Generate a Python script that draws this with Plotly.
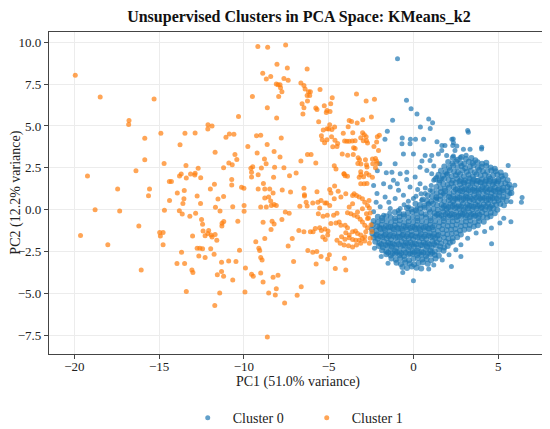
import plotly.graph_objects as go

# PCA scores, cluster 1 (orange)
cluster1_pts = [
    (-19.95, 8.03), (-18.48, 6.73), (-15.3, 6.61), (-16.78, 5.33), (-16.8, 5.09), (-15.85, 4.26),
    (-14.9, 4.56), (-15.85, 2.98), (-14.71, 2.76), (-16.37, 2.33), (-19.23, 2.01), (-13.48, 4.56),
    (-12.88, 4.58), (-13.77, 3.87), (-12.13, 4.81), (-12.12, 5.07), (-11.88, 4.99), (-10.32, 5.56),
    (-11.06, 4.32), (-10.86, 4.52), (-10.59, 4.5), (-13.42, 2.64), (-11.7, 3.43), (-10.53, 3.3),
    (-10.42, 3.0), (-10.89, 2.78), (-10.69, 2.68), (-11.2, 2.5), (-12.7, 2.47), (-12.88, 2.17),
    (-12.9, 2.07), (-13.15, 2.13), (-13.8, 2.01), (-13.7, 2.13), (-12.55, 1.9), (-13.4, 1.89),
    (-17.45, 1.24), (-18.78, 0.0), (-17.33, -0.08), (-19.64, -1.54), (-18.03, -2.09), (-16.2, -0.97),
    (-16.06, -3.61), (-15.57, 1.24), (-15.63, 0.83), (-14.97, -1.36), (-14.77, -1.36), (-14.93, -1.58),
    (-14.77, -2.09), (-14.69, -0.04), (-14.4, 1.68), (-14.28, 1.68), (-14.39, 0.55), (-13.93, 1.0),
    (-13.52, 1.14), (-13.54, 0.65), (-13.6, 0.37), (-13.81, -0.06), (-13.64, -0.26), (-13.19, -0.39),
    (-12.85, -0.22), (-12.76, 0.81), (-12.56, 0.37), (-12.5, -0.59), (-13.03, -1.58), (-12.44, -0.87),
    (-12.41, -1.28), (-12.29, -1.56), (-12.08, -1.24), (-12.13, -1.43), (-11.94, -1.52), (-11.88, -1.64),
    (-11.7, -1.48), (-11.6, -1.82), (-12.76, -2.31), (-12.6, -2.31), (-12.44, -2.33), (-12.66, -2.76),
    (-12.29, -2.86), (-11.96, -2.33), (-11.76, -2.66), (-11.98, 1.24), (-11.74, 1.52), (-11.53, 0.63),
    (-11.41, -0.08), (-11.68, 0.14), (-11.29, -0.81), (-11.19, -0.7), (-11.3, -0.97), (-11.2, 0.79),
    (-10.72, 1.8), (-10.72, 1.48), (-10.66, 0.18), (-10.36, -0.69), (-10.26, -2.43), (-10.47, -3.1),
    (-10.66, -4.2), (-10.9, -3.06), (-11.32, -3.14), (-11.32, -3.69), (-11.2, -3.98), (-11.57, -3.89),
    (-13.95, -3.21), (-13.5, -3.21), (-13.07, -3.61), (-13.01, -3.75), (-13.4, -4.89), (-11.43, -4.97),
    (-11.72, -5.72), (-13.68, -2.54),
    (-9.18, 9.74), (-8.6, 9.7), (-7.54, 9.84), (-8.05, 8.68), (-7.44, 8.46), (-8.89, 8.15),
    (-8.68, 7.81), (-8.42, 7.95), (-7.64, 7.83), (-7.39, 7.73), (-6.27, 8.4), (-8.09, 7.5),
    (-7.99, 7.46), (-7.87, 7.46), (-7.84, 7.28), (-7.76, 7.04), (-7.95, 6.76), (-9.5, 6.76),
    (-8.62, 6.09), (-8.07, 5.48), (-6.64, 7.57), (-6.46, 7.41), (-6.39, 7.2), (-6.19, 7.04),
    (-6.08, 7.04), (-6.12, 6.82), (-6.27, 6.82), (-6.25, 6.49), (-6.57, 6.33), (-6.46, 6.09),
    (-6.52, 5.72), (-5.51, 7.18), (-5.76, 6.07), (-5.69, 5.98), (-5.26, 6.21), (-5.1, 5.92),
    (-4.88, 6.33), (-4.79, 6.69), (-4.92, 5.86), (-5.14, 5.8), (-5.59, 5.25), (-3.36, 6.9),
    (-2.79, 6.49), (-2.3, 6.59), (-2.48, 5.54), (-2.99, 5.37), (-3.79, 5.33), (-3.65, 5.27),
    (-3.85, 4.95), (-3.32, 5.17), (-4.94, 5.07), (-5.1, 4.83), (-5.0, 4.81), (-4.81, 4.79),
    (-4.65, 4.93), (-5.32, 4.75), (-5.43, 4.42), (-4.83, 4.36), (-5.1, 4.18), (-5.38, 4.18),
    (-4.63, 4.14), (-4.47, 3.95), (-4.51, 3.77), (-4.76, 3.75), (-5.24, 4.0), (-4.14, 4.56),
    (-4.06, 4.1), (-3.93, 4.08), (-3.79, 4.08), (-3.61, 4.1), (-3.58, 4.6), (-3.44, 4.12),
    (-3.0, 4.6), (-2.9, 4.48), (-2.79, 4.36), (-3.11, 4.3), (-2.77, 4.12), (-2.96, 4.12),
    (-2.71, 3.98), (-2.13, 4.36), (-2.01, 4.44), (-2.17, 4.04), (-2.33, 3.77), (-3.53, 3.69),
    (-3.44, 3.65), (-4.2, 3.33), (-3.88, 3.25), (-3.55, 3.29), (-3.26, 3.1), (-3.18, 2.98),
    (-3.28, 2.76), (-3.1, 2.72), (-2.83, 2.98), (-2.77, 2.68), (-2.42, 3.02), (-2.24, 3.06),
    (-2.18, 2.9), (-2.4, 2.74), (-2.24, 2.5), (-2.14, 2.76), (-4.67, 2.62), (-4.57, 2.43),
    (-4.1, 2.15), (-4.03, 2.03), (-3.11, 2.27), (-2.77, 2.17), (-3.2, 1.93), (-3.1, 2.09),
    (-9.77, 3.77), (-9.26, 4.42), (-9.01, 4.44), (-7.8, 4.28), (-8.63, 3.89), (-9.22, 3.39),
    (-8.79, 3.02), (-8.69, 2.74), (-8.22, 3.47), (-7.87, 3.15), (-9.48, 2.56), (-9.59, 2.47),
    (-8.97, 2.49), (-8.19, 2.54), (-7.64, 2.5), (-7.31, 2.03), (-6.92, 2.19), (-6.64, 2.9),
    (-6.25, 3.29), (-6.04, 3.29), (-5.76, 2.78), (-2.06, 3.53), (-2.74, 2.55), (-2.94, 1.96),
    (-2.74, 1.56),
    (-9.55, 2.23), (-9.55, 1.95), (-9.16, 2.09), (-8.85, 1.56), (-8.25, 1.93), (-10.14, 1.34),
    (-10.0, 1.28), (-9.16, 1.24), (-8.77, 1.24), (-8.48, 1.24), (-8.28, 1.0), (-7.74, 1.18),
    (-7.25, 1.05), (-8.77, 0.69), (-8.54, 0.75), (-8.42, 0.51), (-8.38, 0.25), (-8.22, 0.31),
    (-8.09, 0.25), (-9.01, 0.16), (-8.68, 0.16), (-9.99, 0.25), (-9.99, -0.1), (-8.87, -0.75),
    (-8.34, -0.69), (-8.22, -0.85), (-8.4, -1.18), (-7.76, -0.59), (-7.56, -0.14), (-7.33, -0.22),
    (-6.7, 0.2), (-6.43, 0.81), (-6.33, 0.45), (-6.27, 0.22), (-6.46, 1.28), (-6.43, 0.89),
    (-5.69, 1.07), (-5.45, 0.55), (-5.12, 0.4), (-4.94, 1.2), (-4.87, 0.99), (-4.65, 1.42),
    (-4.44, 1.1), (-5.94, 0.4), (-5.64, 0.45), (-5.22, 0.4), (-4.94, 0.25), (-5.53, 0.1),
    (-5.61, -0.24), (-5.33, -0.39), (-5.08, -0.34), (-4.71, -0.34), (-4.51, -0.22), (-6.76, -1.24),
    (-6.46, -1.32), (-6.08, -1.32), (-5.92, -1.32), (-5.79, -1.12), (-5.53, -1.08), (-5.43, -1.24),
    (-5.22, -1.16), (-5.04, -1.28), (-5.06, -1.52), (-5.35, -1.64), (-5.2, -1.78),
    (-4.87, -0.83), (-4.57, -0.79), (-4.38, -0.73), (-4.28, -0.93), (-4.03, -0.93), (-3.89, -1.08),
    (-3.99, -1.38), (-3.79, -1.52), (-3.59, -1.32), (-3.42, -1.28), (-3.3, -1.42), (-3.11, -1.52),
    (-3.01, -1.72), (-3.2, -1.82), (-3.4, -1.82), (-3.59, -1.78), (-3.79, -1.68), (-4.04, -1.76),
    (-4.24, -1.62), (-4.51, -1.82), (-4.32, -2.01), (-4.09, -2.11), (-3.83, -2.15), (-3.59, -2.23),
    (-3.36, -2.11), (-3.11, -2.01), (-2.87, -1.87), (-2.87, -1.62), (-2.81, -1.32), (-2.71, -1.08),
    (-2.87, -0.93), (-3.01, -0.73), (-3.14, -0.57), (-3.3, -0.43), (-3.5, -0.34), (-3.69, -0.24),
    (-3.89, -0.18), (-4.09, 2.13), (-3.89, 1.99), (-3.5, 0.95), (-3.36, 0.85), (-3.2, 0.75),
    (-3.01, 0.65), (-2.87, 0.45), (-2.71, 0.25), (-3.01, 0.06), (-3.3, -0.14), (-3.59, 0.36),
    (-3.79, 0.16), (-3.11, 1.54), (-2.91, 1.54), (-2.62, 2.07), (-2.42, 1.93), (-2.77, -0.24),
    (-2.71, -0.53), (-2.62, 0.55), (-3.59, 0.85), (-3.99, 0.95), (-4.28, 0.75), (-4.67, 0.65),
    (-2.5, -0.9), (-2.45, -1.3), (-2.55, -1.7), (-2.6, -2.0), (-2.65, -0.5), (-2.55, -0.2),
    (-2.6, 0.1),
    (-9.91, -3.49), (-9.94, -4.91), (-9.55, -3.85), (-9.45, -3.98), (-9.01, -3.79), (-8.87, -4.32),
    (-8.28, -4.04), (-7.99, -3.92), (-8.09, -4.72), (-8.54, -4.97), (-8.15, -5.09), (-7.6, -5.58),
    (-6.86, -5.11), (-6.62, -4.6), (-7.07, -3.1), (-7.39, -2.17), (-7.15, -1.72), (-8.77, -1.72),
    (-9.3, -1.91), (-9.12, -2.31), (-9.07, -2.44), (-9.01, -2.86), (-8.93, -3.0), (-6.23, -2.44),
    (-5.94, -2.54), (-5.7, -2.5), (-5.45, -2.8), (-5.06, -2.94), (-4.96, -2.7), (-5.74, -3.24),
    (-5.35, -4.34), (-4.61, -3.51), (-4.07, -2.9), (-3.99, -3.61), (-8.62, -7.61),
]

# cluster 0 (blue): dense core of the cloud
cluster0_core = [
    (2.32, 3.1), (2.6, 2.98), (2.85, 3.15), (3.1, 3.02), (3.42, 3.08), (3.65, 2.95),
    (2.05, 2.84), (2.3, 2.75), (2.52, 2.88), (2.78, 2.79), (3.0, 2.72), (3.27, 2.86), (3.5, 2.78),
    (3.78, 2.83), (4.05, 2.74), (4.3, 2.8),
    (1.82, 2.58), (2.1, 2.5), (2.35, 2.62), (2.6, 2.53), (2.84, 2.6), (3.05, 2.47), (3.33, 2.57),
    (3.55, 2.63), (3.8, 2.5), (4.02, 2.56), (4.3, 2.6), (4.55, 2.52), (4.8, 2.45),
    (1.62, 2.33), (1.9, 2.25), (2.15, 2.36), (2.4, 2.28), (2.62, 2.22), (2.9, 2.35), (3.15, 2.27),
    (3.38, 2.32), (3.62, 2.24), (3.88, 2.37), (4.1, 2.3), (4.35, 2.26), (4.6, 2.34), (4.85, 2.29),
    (5.15, 2.22),
    (1.48, 2.08), (1.75, 2.02), (2.0, 2.1), (2.26, 1.99), (2.5, 2.06), (2.75, 2.12), (2.98, 2.0),
    (3.25, 2.07), (3.5, 1.98), (3.72, 2.11), (3.96, 2.04), (4.22, 2.09), (4.45, 1.97), (4.7, 2.05),
    (4.95, 2.1), (5.2, 2.0), (5.42, 2.06),
    (1.3, 1.83), (1.55, 1.76), (1.82, 1.85), (2.08, 1.78), (2.32, 1.72), (2.58, 1.84), (2.8, 1.79),
    (3.05, 1.75), (3.3, 1.86), (3.55, 1.8), (3.8, 1.73), (4.05, 1.82), (4.28, 1.77), (4.52, 1.85),
    (4.78, 1.74), (5.02, 1.8), (5.28, 1.83), (5.55, 1.76),
    (1.52, 1.6), (1.76, 1.53), (2.02, 1.49), (2.25, 1.57), (2.5, 1.61),
    (2.76, 1.52), (3.0, 1.56), (3.22, 1.48), (3.48, 1.59), (3.72, 1.54), (3.95, 1.6), (4.2, 1.51),
    (4.45, 1.56), (4.68, 1.5), (4.92, 1.58), (5.18, 1.53), (5.42, 1.57), (5.66, 1.49),
    (1.35, 1.35), (1.6, 1.28), (1.85, 1.24), (2.1, 1.32), (2.36, 1.36),
    (2.6, 1.27), (2.85, 1.3), (3.1, 1.23), (3.35, 1.34), (3.6, 1.29), (3.84, 1.25), (4.08, 1.36),
    (4.32, 1.3), (4.56, 1.24), (4.8, 1.33), (5.05, 1.27), (5.3, 1.31), (5.55, 1.35), (5.76, 1.26),
    (1.12, 1.1), (1.38, 1.0), (1.62, 1.06), (1.88, 1.12), (2.12, 0.99),
    (2.38, 1.07), (2.62, 1.03), (2.88, 1.1), (3.12, 0.98), (3.38, 1.05), (3.62, 1.11), (3.86, 1.01),
    (4.1, 1.07), (4.35, 1.04), (4.6, 0.99), (4.84, 1.09), (5.08, 1.02), (5.32, 1.06), (5.56, 1.1),
    (5.78, 1.0),
    (0.84, 0.85), (1.1, 0.78), (1.35, 0.74), (1.6, 0.82), (1.85, 0.86),
    (2.1, 0.77), (2.35, 0.8), (2.6, 0.73), (2.85, 0.84), (3.1, 0.79), (3.34, 0.75), (3.58, 0.86),
    (3.82, 0.8), (4.06, 0.74), (4.3, 0.83), (4.55, 0.77), (4.8, 0.81), (5.05, 0.85), (5.3, 0.76),
    (5.55, 0.8),
    (0.55, 0.6), (0.8, 0.53), (1.05, 0.49), (1.32, 0.57), (1.58, 0.61),
    (1.82, 0.52), (2.08, 0.56), (2.34, 0.48), (2.58, 0.59), (2.84, 0.54), (3.08, 0.6), (3.32, 0.51),
    (3.56, 0.56), (3.8, 0.5), (4.05, 0.58), (4.3, 0.53), (4.54, 0.57), (4.78, 0.49), (5.02, 0.55),
    (5.26, 0.6), (5.5, 0.52),
    (0.12, 0.35), (0.38, 0.28), (0.64, 0.24), (0.9, 0.32), (1.15, 0.36),
    (1.4, 0.27), (1.66, 0.3), (1.92, 0.23), (2.18, 0.34), (2.42, 0.29), (2.68, 0.25), (2.92, 0.36),
    (3.18, 0.3), (3.42, 0.24), (3.66, 0.33), (3.9, 0.27), (4.15, 0.31), (4.4, 0.35), (4.64, 0.26),
    (4.88, 0.3), (5.12, 0.34), (5.34, 0.27),
    (-0.38, 0.1), (-0.12, 0.02), (0.14, -0.03), (0.4, 0.07), (0.66, 0.11),
    (0.92, 0.01), (1.18, 0.05), (1.44, -0.02), (1.7, 0.09), (1.96, 0.04), (2.2, 0.0), (2.46, 0.1),
    (2.72, 0.05), (2.96, -0.01), (3.22, 0.08), (3.48, 0.02), (3.72, 0.06), (3.98, 0.1), (4.22, 0.01),
    (4.48, 0.05), (4.72, 0.09), (4.95, 0.0),
    (-1.1, -0.15), (-0.84, -0.22), (-0.58, -0.27), (-0.32, -0.18),
    (-0.06, -0.14), (0.2, -0.23), (0.46, -0.2), (0.72, -0.27), (0.98, -0.16), (1.24, -0.21),
    (1.5, -0.25), (1.76, -0.14), (2.0, -0.2), (2.26, -0.26), (2.52, -0.17), (2.78, -0.22),
    (3.02, -0.19), (3.28, -0.15), (3.54, -0.24), (3.8, -0.2), (4.05, -0.16), (4.3, -0.25),
    (4.56, -0.18), (4.8, -0.22),
    (-2.1, -0.42), (-1.85, -0.5), (-1.6, -0.4), (-1.34, -0.47), (-1.08, -0.52), (-0.82, -0.43),
    (-0.56, -0.39), (-0.3, -0.48), (-0.04, -0.45), (0.22, -0.52), (0.48, -0.41), (0.74, -0.46),
    (1.0, -0.5), (1.26, -0.39), (1.52, -0.45), (1.78, -0.51), (2.04, -0.42), (2.3, -0.47),
    (2.56, -0.44), (2.82, -0.4), (3.08, -0.49), (3.32, -0.45), (3.58, -0.41), (3.84, -0.5),
    (4.1, -0.43), (4.35, -0.47), (4.55, -0.4),
    (-2.35, -0.67), (-2.1, -0.74), (-1.84, -0.65), (-1.58, -0.72), (-1.32, -0.77), (-1.06, -0.68),
    (-0.8, -0.64), (-0.54, -0.73), (-0.28, -0.7), (-0.02, -0.77), (0.24, -0.66), (0.5, -0.71),
    (0.76, -0.75), (1.02, -0.64), (1.28, -0.7), (1.54, -0.76), (1.8, -0.67), (2.06, -0.72),
    (2.32, -0.69), (2.58, -0.65), (2.84, -0.74), (3.1, -0.7), (3.36, -0.66), (3.62, -0.75),
    (3.88, -0.68), (4.15, -0.72),
    (-2.4, -0.92), (-2.14, -0.99), (-1.88, -0.9), (-1.62, -0.97), (-1.36, -1.02), (-1.1, -0.93),
    (-0.84, -0.89), (-0.58, -0.98), (-0.32, -0.95), (-0.06, -1.02), (0.2, -0.91), (0.46, -0.96),
    (0.72, -1.0), (0.98, -0.89), (1.24, -0.95), (1.5, -1.01), (1.76, -0.92), (2.02, -0.97),
    (2.28, -0.94), (2.54, -0.9), (2.8, -0.99), (3.06, -0.95), (3.32, -0.91), (3.56, -1.0),
    (3.8, -0.93),
    (-2.45, -1.17), (-2.2, -1.24), (-1.94, -1.15), (-1.68, -1.22), (-1.42, -1.27), (-1.16, -1.18),
    (-0.9, -1.14), (-0.64, -1.23), (-0.38, -1.2), (-0.12, -1.27), (0.14, -1.16), (0.4, -1.21),
    (0.66, -1.25), (0.92, -1.14), (1.18, -1.2), (1.44, -1.26), (1.7, -1.17), (1.96, -1.22),
    (2.22, -1.19), (2.48, -1.15), (2.74, -1.24), (3.0, -1.2), (3.28, -1.16),
    (-2.42, -1.42), (-2.16, -1.49), (-1.9, -1.4), (-1.64, -1.47), (-1.38, -1.52), (-1.12, -1.43),
    (-0.86, -1.39), (-0.6, -1.48), (-0.34, -1.45), (-0.08, -1.52), (0.18, -1.41), (0.44, -1.46),
    (0.7, -1.5), (0.96, -1.39), (1.22, -1.45), (1.48, -1.51), (1.74, -1.42), (2.0, -1.47),
    (2.26, -1.44), (2.52, -1.4), (2.8, -1.49),
    (-2.35, -1.67), (-2.1, -1.74), (-1.84, -1.65), (-1.58, -1.72), (-1.32, -1.77), (-1.06, -1.68),
    (-0.8, -1.64), (-0.54, -1.73), (-0.28, -1.7), (-0.02, -1.77), (0.24, -1.66), (0.5, -1.71),
    (0.76, -1.75), (1.02, -1.64), (1.28, -1.7), (1.54, -1.76), (1.8, -1.67), (2.06, -1.72),
    (2.32, -1.69), (2.58, -1.65),
    (-2.25, -1.92), (-2.0, -1.99), (-1.74, -1.9), (-1.48, -1.97), (-1.22, -2.02), (-0.96, -1.93),
    (-0.7, -1.89), (-0.44, -1.98), (-0.18, -1.95), (0.08, -2.02), (0.34, -1.91), (0.6, -1.96),
    (0.86, -2.0), (1.12, -1.89), (1.38, -1.95), (1.64, -2.01), (1.9, -1.92), (2.15, -1.97),
    (2.32, -1.9),
    (-2.05, -2.17), (-1.8, -2.24), (-1.54, -2.15), (-1.28, -2.22), (-1.02, -2.27), (-0.76, -2.18),
    (-0.5, -2.14), (-0.24, -2.23), (0.02, -2.2), (0.28, -2.27), (0.54, -2.16), (0.8, -2.21),
    (1.06, -2.25), (1.32, -2.14), (1.58, -2.2), (1.82, -2.26), (2.02, -2.17),
    (-1.85, -2.42), (-1.6, -2.49), (-1.34, -2.4), (-1.08, -2.47), (-0.82, -2.52), (-0.56, -2.43),
    (-0.3, -2.39), (-0.04, -2.48), (0.22, -2.45), (0.48, -2.52), (0.74, -2.41), (1.0, -2.46),
    (1.26, -2.5), (1.52, -2.39), (1.78, -2.45),
    (-1.6, -2.67), (-1.34, -2.74), (-1.08, -2.65), (-0.82, -2.72), (-0.56, -2.77), (-0.3, -2.68),
    (-0.04, -2.64), (0.22, -2.73), (0.48, -2.7), (0.74, -2.77), (1.0, -2.66), (1.26, -2.71),
    (1.5, -2.75),
    (-1.3, -2.92), (-1.04, -2.99), (-0.78, -2.9), (-0.52, -2.97), (-0.26, -3.02), (0.0, -2.93),
    (0.26, -2.89), (0.52, -2.98), (0.78, -2.95), (1.04, -3.02), (1.3, -2.91),
    (-1.0, -3.17), (-0.74, -3.24), (-0.48, -3.15), (-0.22, -3.22), (0.04, -3.27), (0.3, -3.18),
    (0.56, -3.14), (0.85, -3.23),
    (-0.65, -3.42), (-0.38, -3.49), (-0.1, -3.4), (0.18, -3.47), (0.46, -3.52),
]

# cluster 0: extra points where the cloud is darkest
cluster0_dense = [
    (2.72, 1.7), (2.97, 1.64), (3.24, 1.69), (3.49, 1.66), (3.75, 1.72), (4.0, 1.63), (4.26, 1.68),
    (4.5, 1.71), (4.76, 1.65), (5.0, 1.69),
    (2.5, 1.2), (2.75, 1.15), (3.0, 1.21), (3.26, 1.16), (3.5, 1.19), (3.76, 1.14), (4.0, 1.22),
    (4.24, 1.17), (4.5, 1.2), (4.74, 1.15), (5.0, 1.19), (5.25, 1.16),
    (2.2, 0.7), (2.46, 0.65), (2.72, 0.71), (2.96, 0.66), (3.2, 0.69), (3.46, 0.64), (3.7, 0.72),
    (3.94, 0.67), (4.2, 0.7), (4.44, 0.65), (4.68, 0.69), (4.92, 0.66),
    (1.8, 0.2), (2.06, 0.15), (2.3, 0.21), (2.56, 0.16), (2.8, 0.19), (3.06, 0.14), (3.3, 0.22),
    (3.54, 0.17), (3.8, 0.2), (4.04, 0.15), (4.28, 0.19), (4.52, 0.16),
    (1.4, -0.3), (1.66, -0.35), (1.9, -0.29), (2.16, -0.34), (2.4, -0.31), (2.66, -0.36),
    (2.9, -0.28), (3.14, -0.33), (3.4, -0.3), (3.66, -0.35), (3.9, -0.31),
    (-2.0, -1.06), (-1.74, -1.11), (-1.48, -1.05), (-1.22, -1.1), (-0.96, -1.07), (-0.7, -1.12),
    (-0.44, -1.04), (-0.18, -1.09), (0.08, -1.06), (0.34, -1.11), (0.6, -1.07), (0.86, -1.1),
    (1.12, -1.05),
    (-2.2, -1.56), (-1.96, -1.61), (-1.7, -1.55), (-1.44, -1.6), (-1.18, -1.57), (-0.92, -1.62),
    (-0.66, -1.54), (-0.4, -1.59), (-0.14, -1.56), (0.12, -1.61), (0.38, -1.57), (0.64, -1.6),
    (0.9, -1.55), (1.16, -1.59), (1.42, -1.56),
    (-1.9, -2.06), (-1.64, -2.11), (-1.38, -2.05), (-1.12, -2.1), (-0.86, -2.07), (-0.6, -2.12),
    (-0.34, -2.04), (-0.08, -2.09), (0.18, -2.06), (0.44, -2.11), (0.7, -2.07), (0.96, -2.1),
    (1.22, -2.05),
    (-1.5, -2.56), (-1.24, -2.61), (-0.98, -2.55), (-0.72, -2.6), (-0.46, -2.57), (-0.2, -2.62),
    (0.06, -2.54), (0.32, -2.59), (0.58, -2.56), (0.84, -2.61), (1.1, -2.57),
]

# cluster 0: scattered points around the core
cluster0_sparse = [
    (-0.94, 9.01), (-0.41, 6.53), (-0.14, 6.02), (0.21, 5.72), (-1.23, 5.34), (0.9, 5.42),
    (1.13, 5.19), (0.99, 4.85), (0.41, 4.93), (3.2, 4.73), (4.03, 3.73), (-1.54, 4.69),
    (-0.66, 4.28), (-0.18, 4.2), (0.12, 4.2), (0.6, 4.2), (-1.68, 4.2), (2.27, 4.2),
    (2.36, 4.0), (2.56, 3.8), (2.36, 3.21), (2.76, 3.12), (3.11, 3.25), (2.95, 3.61),
    (3.34, 3.61), (1.39, 4.06), (1.68, 3.83), (-1.98, 2.74), (-2.13, 2.33),
    (-0.68, 3.93), (-0.2, 3.93), (-0.59, 3.33), (0.0, 3.33), (0.69, 3.23), (1.08, 3.23),
    (1.47, 3.33), (1.67, 3.53), (0.98, 2.94), (-1.08, 2.74), (-1.27, 2.24), (-0.78, 2.15),
    (-0.39, 2.24), (0.1, 1.95), (0.39, 2.54), (0.79, 2.34), (1.08, 2.15), (1.37, 1.95),
    (1.67, 1.85), (1.96, 2.15), (-1.18, 1.75), (-1.76, 1.55), (-2.35, 1.45), (-1.37, 1.35),
    (-0.88, 1.16), (-0.2, 1.35), (0.39, 1.55), (0.69, 0.96), (0.98, 1.16), (-2.15, 0.96),
    (-1.67, 0.76), (-1.08, 0.66), (-0.59, 0.86), (0.0, 0.66), (0.49, 0.56), (0.88, 0.37),
    (1.37, 0.66), (1.76, 0.96), (-1.96, 0.17), (-1.37, 0.07), (-0.78, 0.07), (-0.29, 0.17),
    (0.2, 0.07), (-2.35, -0.13), (-1.76, -0.33), (-1.6, 2.2), (-0.95, 1.55), (-0.4, 1.8),
    (0.25, 1.2), (-1.45, 0.45), (-0.3, 0.5), (-2.2, 0.45), (1.2, 2.6), (0.5, 2.9),
    (2.35, 4.22), (2.32, 3.83), (2.45, 3.53), (1.96, 3.24), (1.86, 3.83), (4.02, 3.63),
    (3.24, 4.62), (5.59, 2.64), (5.98, 1.46), (5.69, 0.97), (5.75, 0.47), (5.33, -0.52),
    (5.75, -0.72), (4.61, -2.04), (6.41, 0.73), (6.37, 0.45), (5.1, -0.8), (4.6, -1.1),
    (4.2, -1.3), (3.7, -1.4), (3.2, -1.7), (2.8, -2.1), (2.5, -2.4), (2.1, -2.7),
    (1.7, -3.0), (1.2, -3.3), (2.8, -2.8), (2.24, -3.39), (-0.63, -3.75), (0.0, -4.24),
    (-1.5, -3.2), (-1.9, -2.8), (-2.3, -2.3), (0.9, -3.55),
    (1.05, 1.45), (0.7, 1.3), (0.45, 0.95), (0.15, 0.8), (-0.55, 0.3), (-0.9, -0.05),
    (-1.4, -0.2), (1.2, 1.75),
]

blue = '#1f77b4'
orange = '#ff7f0e'
serif = 'Liberation Serif, Times New Roman, serif'

# the page body keeps its default 8px margin, so the layout is set 8px up and left
c0_dense = cluster0_core + cluster0_dense

fig = go.Figure()
fig.add_trace(go.Scatter(
    x=[p[0] for p in c0_dense], y=[p[1] for p in c0_dense], mode='markers', name='Cluster 0',
    legendgroup='c0', showlegend=False,
    marker=dict(color=blue, size=6, opacity=0.7, line=dict(width=0)),
))
fig.add_trace(go.Scatter(
    x=[p[0] for p in cluster0_sparse], y=[p[1] for p in cluster0_sparse], mode='markers',
    name='Cluster 0', legendgroup='c0',
    marker=dict(color=blue, size=5, opacity=0.7, line=dict(width=0)),
))
fig.add_trace(go.Scatter(
    x=[p[0] for p in cluster1_pts], y=[p[1] for p in cluster1_pts], mode='markers', name='Cluster 1',
    marker=dict(color=orange, size=5, opacity=0.7, line=dict(width=0)),
))

axis_style = dict(
    showline=True, linecolor='#444', linewidth=1.2, mirror=True,
    ticks='outside', ticklen=4, tickcolor='#444', tickwidth=1,
    showgrid=True, gridcolor='#ececec', gridwidth=1, zeroline=False,
    tickfont=dict(family=serif, size=13, color='#222'), automargin=False,
)

fig.update_layout(
    width=550, height=429,
    margin=dict(l=41, r=11, t=23.5, b=82.5),
    paper_bgcolor='white', plot_bgcolor='white',
    font=dict(family=serif, color='#222'),
    title=dict(text='<b>Unsupervised Clusters in PCA Space: KMeans_k2</b>',
               x=0.529, xanchor='center', y=0.981, yanchor='middle',
               font=dict(family=serif, size=16, color='#111')),
    xaxis=dict(range=[-21.5, 7.88], tickvals=[-20, -15, -10, -5, 0, 5],
               ticktext=['\u221220', '\u221215', '\u221210', '\u22125', '0', '5'],
               ticklabelstandoff=-4, **axis_style),
    yaxis=dict(range=[-8.62, 10.61], tickvals=[-7.5, -5, -2.5, 0, 2.5, 5, 7.5, 10],
               ticktext=['\u22127.5', '\u22125.0', '\u22122.5', '0.0', '2.5', '5.0', '7.5', '10.0'],
               **axis_style),
    annotations=[
        dict(text='PC1 (51.0% variance)', xref='paper', yref='paper', x=0.5, y=-0.086,
             xanchor='center', yanchor='middle', showarrow=False,
             font=dict(family=serif, size=14, color='#222')),
        dict(text='PC2 (12.2% variance)', xref='paper', yref='paper', x=-0.067, y=0.5,
             xanchor='center', yanchor='middle', textangle=-90, showarrow=False,
             font=dict(family=serif, size=14, color='#222')),
    ],
    legend=dict(orientation='h', x=0.5075, xanchor='center', yref='container', y=0.044, yanchor='middle',
                font=dict(family=serif, size=14), itemwidth=40, entrywidth=64, entrywidthmode='pixels',
                bgcolor='rgba(0,0,0,0)'),
    showlegend=True,
)

fig.write_html('out.html')
